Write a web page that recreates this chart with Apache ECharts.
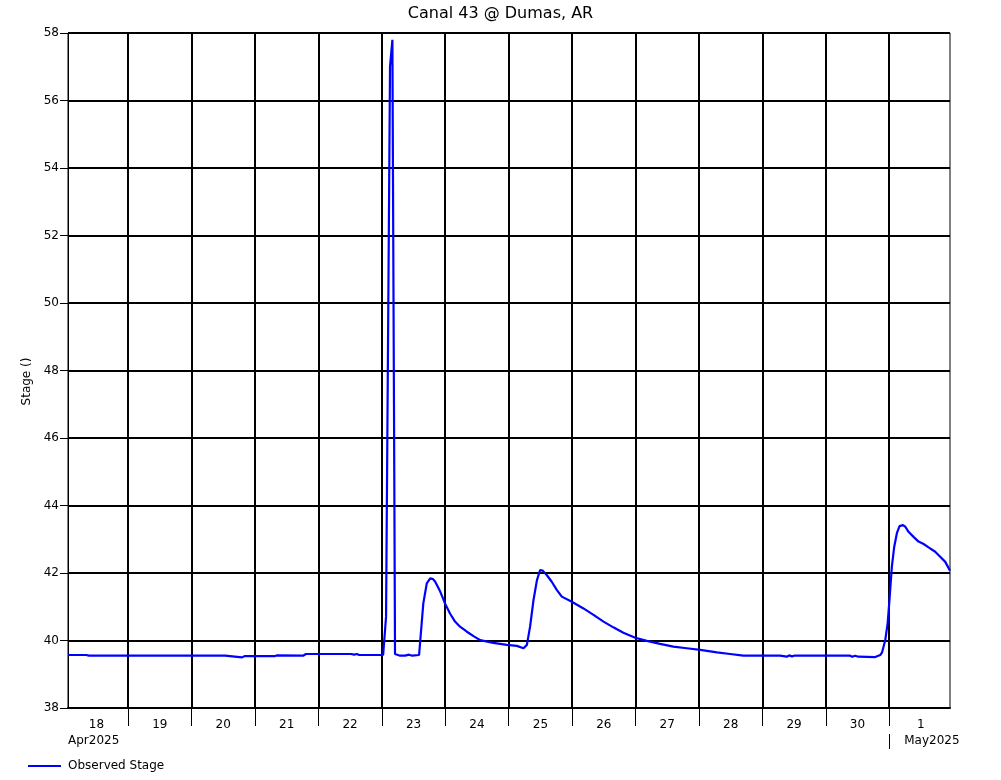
<!DOCTYPE html>
<html>
<head>
<meta charset="utf-8">
<script src="https://cdn.jsdelivr.net/npm/echarts@6/dist/echarts.min.js"></script>
<style>
html,body{margin:0;padding:0;background:#fff;}
#chart{width:1001px;height:780px;}
</style>
</head>
<body>
<div id="chart"></div>
<script>
// Hours since 2025-04-18 00:00
var hours = [1.25, 2.4, 3.1, 4.3, 8.1, 9.2, 60.7, 61.4, 67.1, 68.2, 79.6, 80.4, 81.1, 90.2, 91.3,
  106.9, 107.6, 108.4, 109.5, 110.6, 111.4, 120.5, 121.6, 123.1, 124.0, 124.6, 125.0,
  126.9, 128.8, 130.3, 131.5, 134.1, 134.7, 135.7, 137.0, 138.3, 139.4, 140.2, 142.1, 143.9,
  145.8, 147.7, 149.6, 152.2, 154.7, 157.2, 162.2, 167.3, 171.1, 173.6, 174.9, 176.1, 177.4,
  178.7, 179.9, 180.9, 182.4, 184.3, 186.2, 188.1, 191.9, 196.3, 200.1, 203.9, 207.6, 211.4,
  215.9, 220.3, 225.3, 230.3, 235.4, 240.5, 246.8, 251.8, 256.8, 270.7, 273.3, 274.1, 275.2,
  276.0, 297.2, 298.0, 299.1, 300.3, 306.7, 308.6, 309.3, 310.5, 311.4, 312.1, 313.0, 313.9,
  314.9, 315.9, 317.2, 318.1, 319.3, 321.2, 323.1, 325.0, 326.9, 329.4, 331.3, 333.2, 335.0];
var stage = [39.57, 39.57, 39.54, 39.57, 39.57, 39.55, 39.55, 39.50, 39.50, 39.54, 39.54, 39.56, 39.54, 39.55, 39.60,
  39.60, 39.57, 39.60, 39.58, 39.60, 39.57, 39.57, 40.70, 57.00, 57.80, 47.00, 39.60,
  39.55, 39.55, 39.58, 39.55, 39.57, 39.60, 41.10, 41.69, 41.84, 41.82, 41.74, 41.45, 41.10,
  40.80, 40.56, 40.41, 40.26, 40.13, 40.01, 39.93, 39.87, 39.84, 39.77, 39.87, 40.41, 41.20,
  41.79, 42.09, 42.07, 41.94, 41.74, 41.50, 41.30, 41.15, 40.95, 40.76, 40.56, 40.39, 40.23,
  40.08, 39.99, 39.90, 39.82, 39.77, 39.72, 39.65, 39.60, 39.55, 39.55, 39.52, 39.56, 39.53,
  39.55, 39.55, 39.52, 39.55, 39.52, 39.51, 39.57, 39.65, 40.01, 40.51, 41.20, 42.19, 42.78,
  43.18, 43.39, 43.42, 43.37, 43.22, 43.07, 42.93, 42.86, 42.76, 42.63, 42.48, 42.33, 42.07];

var dayBoundaries = [24, 48, 72, 96, 120, 144, 168, 192, 216, 240, 264, 288, 312];
var dayLabelHours = [12, 36, 60, 84, 108, 132, 156, 180, 204, 228, 252, 276, 300, 324];
var dayLabels = ['18', '19', '20', '21', '22', '23', '24', '25', '26', '27', '28', '29', '30', '1'];
var monthLabelHours = [1.25, 312];
var monthLabels = ['Apr2025', 'May2025'];
var monthTickHours = [312];

var xMin = 1.25, xMax = 335;
var FONT = 'DejaVu Sans';

var seriesData = hours.map(function (h, i) { return [h, stage[i]]; });

var chart = echarts.init(document.getElementById('chart'), null, {renderer: 'canvas'});
chart.setOption({
  animation: false,
  backgroundColor: '#ffffff',
  textStyle: {fontFamily: FONT},
  title: {
    text: 'Canal 43 @ Dumas, AR',
    left: 'center',
    top: 6,
    padding: 0,
    textStyle: {fontFamily: FONT, fontSize: 16, fontWeight: 'normal', color: '#000'}
  },
  legend: {
    left: 28,
    top: 760,
    padding: 0,
    icon: 'path://M0 0H35V2H0Z',
    itemWidth: 33,
    itemHeight: 2,
    textStyle: {fontFamily: FONT, fontSize: 12, color: '#000', padding: [0, 0, 0, 2]},
    data: ['Observed Stage']
  },
  grid: {
    left: 68, right: 51, top: 33, bottom: 72,
    show: true, borderColor: '#000', borderWidth: 1, backgroundColor: 'transparent',
    containLabel: false
  },
  xAxis: [{
    type: 'value',
    min: xMin, max: xMax,
    position: 'bottom',
    axisLine: {show: true, onZero: false, lineStyle: {color: '#000', width: 2}},
    axisTick: {show: true, inside: false, length: 18, customValues: dayBoundaries,
      lineStyle: {color: '#000', width: 1}},
    axisLabel: {show: true, customValues: dayLabelHours, margin: 11,
      fontFamily: FONT, fontSize: 12, color: '#000',
      formatter: function (v) { return dayLabels[Math.round((v - 12) / 24)]; }},
    splitLine: {show: true, lineStyle: {color: '#000', width: 2}}
  }, {
    type: 'value',
    min: xMin, max: xMax,
    position: 'bottom',
    offset: 26,
    axisLine: {show: false},
    axisTick: {show: true, inside: false, length: 15, customValues: monthTickHours,
      lineStyle: {color: '#000', width: 1}},
    axisLabel: {show: true, customValues: monthLabelHours, margin: 1, align: 'left',
      fontFamily: FONT, fontSize: 12, color: '#000',
      formatter: function (v) {
        var i = Math.abs(v - monthLabelHours[0]) < 0.01 ? 0 : 1;
        return i === 0 ? monthLabels[0] : '{m|' + monthLabels[1] + '}';
      },
      rich: {m: {fontFamily: FONT, fontSize: 12, color: '#000', padding: [0, 0, 0, 15]}}},
    splitLine: {show: false}
  }],
  yAxis: {
    type: 'value',
    min: 38, max: 58, interval: 2,
    name: 'Stage ()',
    nameLocation: 'middle',
    nameGap: 32,
    nameTextStyle: {fontFamily: FONT, fontSize: 12, color: '#000', padding: [0, 22, 0, 0]},
    axisLine: {show: true, lineStyle: {color: '#000', width: 1}},
    axisTick: {show: true, inside: false, length: 8, lineStyle: {color: '#000', width: 1}},
    axisLabel: {margin: 9, fontFamily: FONT, fontSize: 12, color: '#000'},
    splitLine: {show: true, lineStyle: {color: '#000', width: 2}}
  },
  series: [{
    name: 'Observed Stage',
    type: 'line',
    xAxisIndex: 0,
    data: seriesData,
    symbol: 'none',
    lineStyle: {color: '#0000ff', width: 2.2},
    itemStyle: {color: '#0000ff'}
  }]
});
</script>
</body>
</html>
